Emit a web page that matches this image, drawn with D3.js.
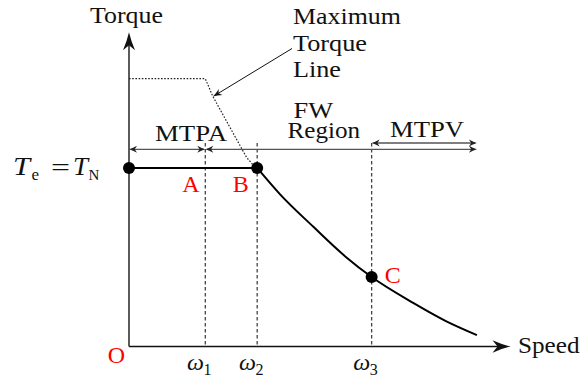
<!DOCTYPE html>
<html>
<head>
<meta charset="utf-8">
<script src="https://cdn.jsdelivr.net/npm/d3@7"></script>
<style>
  html, body { margin: 0; padding: 0; background: #fff; }
  svg { display: block; }
  text { font-family: "Liberation Serif", "DejaVu Serif", serif; fill: #111; }
</style>
</head>
<body>
<svg id="chart" width="580" height="378"></svg>
<script>
// ---- data (speed in units of omega_1, torque in units of T_N) ----
const speedMax = 5.0;
const torqueMax = 1.76;
const ratedTorque = 1.0;
const omegaSubs = ["1", "2", "3"];
const omegaSpeeds = [1.0, 1.68, 3.18];

// maximum torque envelope (dotted)
const maxLineSpeed  = [0, 1.0, 1.1, 1.54, 1.62];
const maxLineTorque = [1.5, 1.5, 1.40, 1.06, 1.02];

// field-weakening torque curve from B through C
const fwSpeed  = [1.68, 1.98, 2.42, 2.85, 3.18, 3.73, 4.16, 4.56];
const fwTorque = [1.0, 0.852, 0.669, 0.499, 0.389, 0.243, 0.141, 0.064];

// operating points
const pointSpeed  = [0, 1.68, 3.18];
const pointTorque = [1.0, 1.0, 0.389];

// region spans along the speed axis
const regionFrom = [0, 1.0, 3.18];
const regionTo   = [1.0, 4.56, 4.56];

const svg = d3.select("#chart");
const x = d3.scaleLinear().domain([0, speedMax]).range([129, 510.5]);
const y = d3.scaleLinear().domain([0, torqueMax]).range([346.5, 32.3]);

// arrowhead with slightly curved flanks and a notched back
function head(g, tx, ty, angle, L, W, fill) {
  const p = `M0,0 Q${-L*0.5},${-W*0.35} ${-L},${-W} L${-L*0.72},0 L${-L},${W} Q${-L*0.5},${W*0.35} 0,0 Z`;
  g.append("path").attr("d", p)
    .attr("transform", `translate(${tx},${ty}) rotate(${angle})`)
    .attr("fill", fill || "#111").attr("stroke", "none");
}

const g = svg.append("g");

// vertical dashed speed markers
const markTop = y(ratedTorque) - 25;
omegaSpeeds.forEach(w => {
  g.append("line")
    .attr("x1", x(w)).attr("x2", x(w))
    .attr("y1", markTop).attr("y2", y(0))
    .attr("stroke", "#444").attr("stroke-width", 1.3)
    .attr("stroke-dasharray", "3.5,2.5");
});

// region arrows
const arrowY = y(ratedTorque) - 18.7;
const mtpvY = arrowY - 6.3;
const regionY = [arrowY, arrowY, mtpvY];
regionFrom.forEach((s, i) => {
  const x1 = x(s), x2 = x(regionTo[i]), yy = regionY[i];
  g.append("line").attr("x1", x1 + 2).attr("x2", x2 - 2)
    .attr("y1", yy).attr("y2", yy)
    .attr("stroke", "#555").attr("stroke-width", 1.3);
  head(g, x1, yy, 180, 8, 3.5, "#222");
  head(g, x2, yy, 0, 8, 3.5, "#222");
});

// axes
g.append("line").attr("x1", x(0)).attr("x2", x(speedMax) - 8)
  .attr("y1", y(0)).attr("y2", y(0))
  .attr("stroke", "#111").attr("stroke-width", 1.6);
head(g, x(speedMax), y(0), 0, 18, 6.3, "#111");
g.append("line").attr("x1", x(0)).attr("x2", x(0))
  .attr("y1", y(0)).attr("y2", y(torqueMax) + 8)
  .attr("stroke", "#333").attr("stroke-width", 1.6);
head(g, x(0), y(torqueMax), -90, 18, 6, "#111");

// maximum torque line (dotted)
const maxPts = maxLineSpeed.map((s, i) => [s, maxLineTorque[i]]);
g.append("path")
  .attr("d", d3.line().x(d => x(d[0])).y(d => y(d[1]))(maxPts))
  .attr("fill", "none").attr("stroke", "#222").attr("stroke-width", 1.2)
  .attr("stroke-dasharray", "1.6,1.6");

// rated torque line up to B
g.append("line").attr("x1", x(0)).attr("x2", x(omegaSpeeds[1]))
  .attr("y1", y(ratedTorque)).attr("y2", y(ratedTorque))
  .attr("stroke", "#000").attr("stroke-width", 2);

// field-weakening curve
const fwPts = fwSpeed.map((s, i) => [s, fwTorque[i]]);
g.append("path")
  .attr("d", d3.line().x(d => x(d[0])).y(d => y(d[1])).curve(d3.curveMonotoneX)(fwPts))
  .attr("fill", "none").attr("stroke", "#000").attr("stroke-width", 2);

// operating point dots
pointSpeed.forEach((s, i) => {
  g.append("circle").attr("cx", x(s)).attr("cy", y(pointTorque[i])).attr("r", 6).attr("fill", "#000");
});

// leader arrow to the maximum torque line
const tipX = x(maxLineSpeed[2]), tipY = y(maxLineTorque[2]);
g.append("line").attr("x1", 292).attr("y1", 48.5).attr("x2", tipX + 4).attr("y2", tipY - 2.4)
  .attr("stroke", "#111").attr("stroke-width", 1);
head(g, tipX, tipY, Math.atan2(tipY - 48.5, tipX - 292) * 180 / Math.PI, 9, 3.5, "#111");

// ---- text ----
function label(txt, tx, ty, len, opts) {
  const t = g.append("text").attr("x", tx).attr("y", ty).attr("font-size", 24).text(txt);
  if (len) t.attr("textLength", len).attr("lengthAdjust", "spacingAndGlyphs");
  if (opts && opts.fill) t.style("fill", opts.fill);
  if (opts && opts.anchor) t.attr("text-anchor", opts.anchor);
  return t;
}

// text made of several positioned runs, kept in one element
function runs(parts) {
  const t = g.append("text");
  parts.forEach(p => {
    const s = t.append("tspan").attr("x", p.x).attr("y", p.y)
      .attr("font-size", p.s || 24).text(p.t);
    if (p.it) s.attr("font-style", "italic");
    if (p.len) s.attr("textLength", p.len).attr("lengthAdjust", "spacingAndGlyphs");
  });
  return t;
}

label("Torque", 90, 23, 73);
label("Speed", 518, 353, 61.5);
runs([
  { t: "Maximum", x: 293, y: 24, len: 108 },
  { t: "Torque", x: 293, y: 51, len: 74 },
  { t: "Line", x: 293, y: 77, len: 48 }
]);
runs([
  { t: "FW", x: 293.5, y: 117.5, len: 39.5 },
  { t: "Region", x: 287.5, y: 138, len: 72.5 }
]);
label("MTPA", 155, 141, 72);
label("MTPV", 390, 137, 74);

// red point labels
label("O", x(0) - 4, 362.5, null, { fill: "#ff0000", anchor: "end" });
label("A", x(omegaSpeeds[0]) - 14.5, 191.5, null, { fill: "#ff0000", anchor: "middle" });
label("B", x(omegaSpeeds[1]) - 16.5, 191.5, null, { fill: "#ff0000", anchor: "middle" });
label("C", x(pointSpeed[2]) + 21, 282.5, null, { fill: "#ff0000", anchor: "middle" });

// speed marker labels  ω_k
omegaSpeeds.forEach((w, i) => {
  const x0 = x(w) - 18.3;
  runs([
    { t: "ω", x: x0, y: 370, it: true },
    { t: omegaSubs[i], x: x0 + 16.5, y: 374.5, s: 16 }
  ]);
});

// T_e = T_N
runs([
  { t: "T", x: 13, y: 175, s: 25, it: true, len: 17 },
  { t: "e", x: 31.5, y: 179.5, s: 17 },
  { t: "=", x: 51, y: 175, len: 19 },
  { t: "T", x: 73, y: 175, s: 25, it: true, len: 15 },
  { t: "N", x: 88.5, y: 179.5, s: 15 }
]);
</script>
</body>
</html>
